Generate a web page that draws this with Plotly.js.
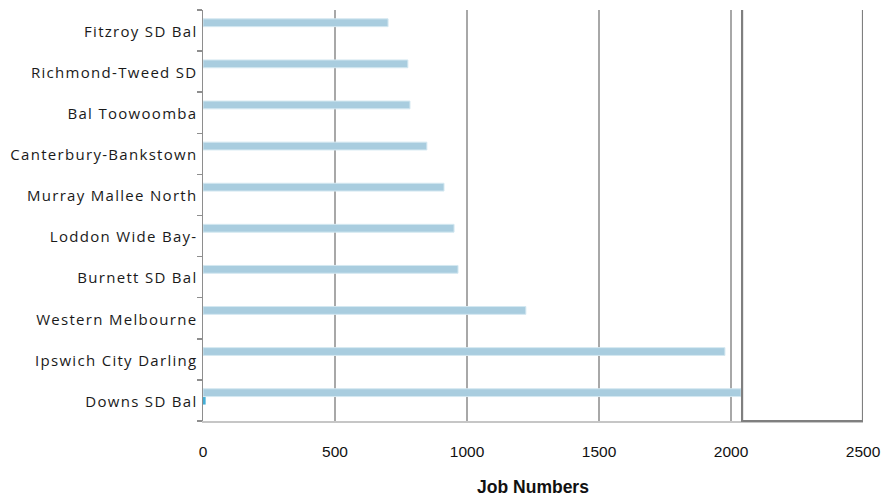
<!DOCTYPE html>
<html>
<head>
<meta charset="utf-8">
<script src="https://cdn.plot.ly/plotly-3.0.1.min.js"></script>
<style>
  html, body { margin: 0; padding: 0; background: #ffffff; }
  #chart { width: 882px; height: 497px; }
  .ytick text { letter-spacing: 1.3px; }
</style>
</head>
<body>
<div id="chart"></div>
<script>
// Regions, listed bottom to top
const regions = [
  "Downs SD Bal",
  "Ipswich City Darling",
  "Western Melbourne",
  "Burnett SD Bal",
  "Loddon Wide Bay-",
  "Murray Mallee North",
  "Canterbury-Bankstown",
  "Bal Toowoomba",
  "Richmond-Tweed SD",
  "Fitzroy SD Bal"
];

// Job numbers per region
const jobNumbers = [2038, 1977, 1223, 966, 951, 913, 848, 784, 776, 701];

// Secondary series (almost empty)
const secondary = [10, 0, 0, 0, 0, 0, 0, 0, 0, 0];

const xTicks = [0, 500, 1000, 1500, 2000, 2500];

const traces = [
  {
    type: "bar",
    orientation: "h",
    y: regions,
    x: secondary,
    width: 0.19,
    offset: -0.1,
    marker: { color: "#44aed6" },
    hoverinfo: "x+y"
  },
  {
    type: "bar",
    orientation: "h",
    y: regions,
    x: jobNumbers,
    width: 0.19,
    offset: 0.095,
    marker: { color: "#a9cddf", line: { color: "#d4e8f1", width: 1 } },
    hoverinfo: "x+y"
  }
];

const maxJobs = Math.max(...jobNumbers);
const xMax = xTicks[xTicks.length - 1];

const layout = {
  width: 882,
  height: 497,
  margin: { l: 203, r: 19, t: 10, b: 76 },
  paper_bgcolor: "#ffffff",
  plot_bgcolor: "#ffffff",
  showlegend: false,
  barmode: "overlay",
  xaxis: {
    range: [0, xMax],
    tickvals: xTicks,
    ticktext: xTicks.map(String),
    showgrid: true,
    gridcolor: "#a8a8a8",
    gridwidth: 1.6,
    zeroline: false,
    showline: true,
    linecolor: "#c6c6c6",
    linewidth: 2,
    ticks: "",
    ticklabelstandoff: 15,
    tickfont: { family: "Liberation Sans, Arial, sans-serif", size: 15.5, color: "#111111" },
    title: {
      text: "<b>Job Numbers</b>",
      font: { family: "Liberation Sans, Arial, sans-serif", size: 17.5, color: "#111111" },
      standoff: 23
    },
    fixedrange: true
  },
  yaxis: {
    type: "category",
    categoryorder: "array",
    categoryarray: regions,
    range: [-0.5, regions.length - 0.5],
    showgrid: false,
    zeroline: false,
    showline: true,
    linecolor: "#8e8e8e",
    linewidth: 1.5,
    ticks: "outside",
    tickson: "boundaries",
    ticklen: 5,
    tickcolor: "#8e8e8e",
    tickwidth: 1.5,
    ticklabelstandoff: 1,
    ticklabelshift: 1,
    tickfont: { family: "Open Sans, Noto Sans, sans-serif", size: 15, color: "#1a1a1a" },
    fixedrange: true
  },
  shapes: [
    {
      type: "path",
      xref: "x",
      yref: "paper",
      path: `M ${maxJobs + 4},1 L ${maxJobs + 4},0 L ${xMax},0 L ${xMax},1`,
      line: { color: "#7f7f7f", width: 2.2 },
      layer: "above"
    }
  ]
};

Plotly.newPlot("chart", traces, layout, { displayModeBar: false, staticPlot: true });
</script>
</body>
</html>
